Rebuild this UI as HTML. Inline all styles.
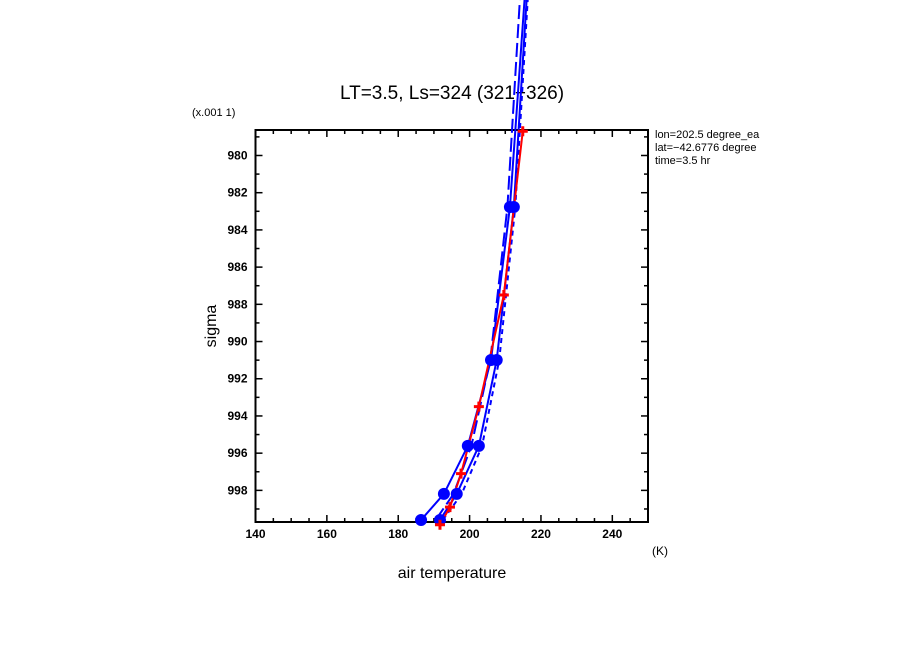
<!DOCTYPE html>
<html><head><meta charset="utf-8"><style>
body{margin:0;background:#fff;}
svg{display:block;font-family:"Liberation Sans",sans-serif;}
</style></head><body>
<svg id="c" width="904" height="654" viewBox="0 0 904 654">
<text x="452" y="99" font-size="19" text-anchor="middle">LT=3.5, Ls=324 (321−326)</text>
<text x="192" y="116" font-size="11">(x.001 1)</text>
<g font-size="11">
<text x="655" y="138">lon=202.5 degree_ea</text>
<text x="655" y="151">lat=−42.6776 degree</text>
<text x="655" y="164">time=3.5 hr</text>
</g>
<text x="652" y="555" font-size="12">(K)</text>
<text x="452" y="578" font-size="16" text-anchor="middle">air temperature</text>
<text x="216" y="326" font-size="16" text-anchor="middle" transform="rotate(-90 216 326)">sigma</text>
<g id="axes"></g>
<g id="series"></g>
</svg>
<script>
const xTicks=[140,160,180,200,220,240];
const yTicks=[980,982,984,986,988,990,992,994,996,998];
const sigmaLevels=[999.59,998.19,995.61,990.99,982.77,970];
const blueSolidA=[186.4,192.8,199.5,206.0,211.3,216.0];
const blueSolidB=[191.7,196.4,202.6,207.6,212.4,216.5];
const blueLongDash=[190.5,195.5,200.5,205.8,210.6,214.6];
const blueShortDash=[192.5,197.8,203.5,208.3,212.8,216.8];
const redSigma=[999.85,998.9,997.1,993.5,987.5,978.7];
const redTemp=[191.7,194.5,197.6,202.6,209.6,214.9];

const L=255.5,R=648,T=130,B=522,X0=140,X1=250,Y0=978.63,Y1=999.70;
const sx=v=>L+(v-X0)/(X1-X0)*(R-L);
const sy=v=>T+(v-Y0)/(Y1-Y0)*(B-T);
const NS="http://www.w3.org/2000/svg";
function mk(tag,attrs,parent){const e=document.createElementNS(NS,tag);for(const k in attrs)e.setAttribute(k,attrs[k]);parent.appendChild(e);return e;}
const ax=document.getElementById('axes');
const fr=mk('rect',{x:L,y:T,width:R-L,height:B-T,fill:'none',stroke:'#000','stroke-width':2},ax);


for(let v=X0;v<=X1;v+=5){const x=sx(v);const len=(v%20===0)?7:4;
 mk('line',{x1:x,y1:B,x2:x,y2:B-len,stroke:'#000','stroke-width':1.5},ax);
 mk('line',{x1:x,y1:T,x2:x,y2:T+len,stroke:'#000','stroke-width':1.5},ax);}
xTicks.forEach(v=>{const t=mk('text',{x:sx(v),y:B+16,'font-size':12,'font-weight':'bold','text-anchor':'middle'},ax);t.textContent=v;
 
 });
for(let v=979;v<=999;v+=1){const y=sy(v);const len=(v%2===0)?7:4;
 mk('line',{x1:L,y1:y,x2:L+len,y2:y,stroke:'#000','stroke-width':1.5},ax);
 mk('line',{x1:R,y1:y,x2:R-len,y2:y,stroke:'#000','stroke-width':1.5},ax);}
yTicks.forEach(v=>{const t=mk('text',{x:L-8,y:sy(v)+4,'font-size':12,'font-weight':'bold','text-anchor':'end'},ax);t.textContent=v;
 
 });

const sg=document.getElementById('series');
function line(temps,sig,color,dash,name){
 const pts=temps.map((t,i)=>sx(t)+','+sy(sig[i])).join(' ');
 const p=mk('polyline',{points:pts,fill:'none',stroke:color,'stroke-width':2,'stroke-dasharray':dash},sg);
 
 
}
line(blueLongDash,sigmaLevels,'#00f','14 5','blue-long-dash-line');
line(blueShortDash,sigmaLevels,'#00f','5 4','blue-short-dash-line');
line(blueSolidA,sigmaLevels,'#00f','none','blue-solid-line-a');
line(blueSolidB,sigmaLevels,'#00f','none','blue-solid-line-b');
line(redTemp,redSigma,'#f00','none','red-line');
[blueSolidA,blueSolidB].forEach(arr=>arr.forEach((t,i)=>{if(sigmaLevels[i]<Y0)return;
 const c=mk('circle',{cx:sx(t),cy:sy(sigmaLevels[i]),r:6,fill:'#00f'},sg);
 
 }));
redTemp.forEach((t,i)=>{const x=sx(t),y=sy(redSigma[i]);
 const g=mk('path',{d:`M${x-5},${y}H${x+5}M${x},${y-5}V${y+5}`,stroke:'#f00','stroke-width':3},sg);
 
 });
</script>
</body></html>
